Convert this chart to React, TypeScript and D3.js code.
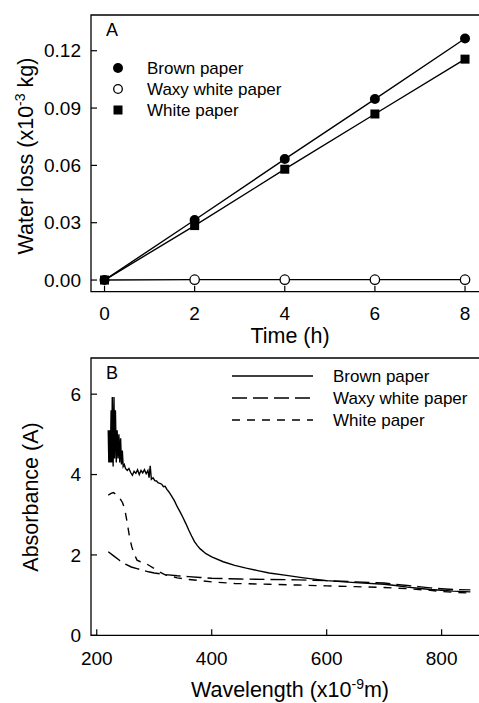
import React from "react";
import * as d3 from "d3";

// ---------- Panel A data ----------
const timeH = [0, 2, 4, 6, 8];
const brownLoss = [0, 0.0314, 0.0633, 0.0947, 0.1264];
const waxyLoss = [0, 0.0002, 0.0002, 0.0002, 0.0002];
const whiteLoss = [0, 0.0285, 0.058, 0.0869, 0.1156];
const ticksA_x = [0, 2, 4, 6, 8];
const ticksA_y = [0, 0.03, 0.06, 0.09, 0.12];

// ---------- Panel B data ----------
const brownAbs: [number, number][] = [
  [220, 5.1], [221, 4.3], [222, 5.1], [223.5, 4.3], [225, 5.6], [226, 4.3], [227, 5.93],
  [228.5, 4.2], [230, 5.93], [231, 4.4], [232.5, 5.6], [234, 4.3], [235.5, 5.1], [237, 4.4],
  [238.5, 5.0], [240, 4.3], [241.5, 4.9], [243, 4.25], [244.5, 4.6], [246, 4.2], [248, 4.25],
  [250, 4.15], [253, 4.1], [256, 4.15], [259, 4.05], [262, 3.98], [265, 4.08], [268, 4.03],
  [271, 4.12], [274, 4.0], [277, 4.1], [280, 4.04], [283, 4.12], [286, 4.02], [289, 4.1],
  [291, 3.92], [293, 4.22], [295, 3.88], [298, 3.92], [301, 3.85], [304, 3.84], [307, 3.79],
  [310, 3.78], [313, 3.76], [316, 3.7], [319, 3.71], [322, 3.63], [325, 3.58], [330, 3.47],
  [335, 3.35], [340, 3.2], [345, 3.07], [350, 2.93], [355, 2.78], [360, 2.62], [365, 2.47],
  [370, 2.33], [375, 2.23], [380, 2.15], [390, 2.03], [400, 1.95], [420, 1.83], [440, 1.74],
  [460, 1.67], [480, 1.61], [500, 1.55], [530, 1.49], [560, 1.43], [600, 1.36], [650, 1.31],
  [700, 1.27], [720, 1.24], [740, 1.2], [760, 1.17], [780, 1.14], [800, 1.12], [820, 1.1],
  [850, 1.08],
];
const waxyAbs: [number, number][] = [
  [220, 2.08], [230, 1.97], [240, 1.86], [250, 1.77], [260, 1.7], [270, 1.66], [280, 1.62],
  [290, 1.58], [300, 1.55], [320, 1.51], [340, 1.48], [360, 1.46], [380, 1.44], [400, 1.42],
  [450, 1.4], [500, 1.39], [550, 1.38], [600, 1.36], [650, 1.33], [700, 1.3], [720, 1.27],
  [740, 1.24], [760, 1.21], [780, 1.18], [800, 1.16], [820, 1.14], [850, 1.13],
];
const whiteAbs: [number, number][] = [
  [220, 3.49], [225, 3.53], [229, 3.55], [234, 3.5], [240, 3.41], [245, 3.3], [249, 3.12],
  [253, 2.8], [257, 2.45], [261, 2.2], [266, 2.0], [270, 1.87], [276, 1.83], [284, 1.8],
  [292, 1.73], [301, 1.65], [310, 1.57], [320, 1.5], [340, 1.43], [360, 1.39], [380, 1.36],
  [400, 1.33], [440, 1.29], [500, 1.27], [550, 1.25], [600, 1.23], [650, 1.21], [700, 1.19],
  [740, 1.16], [780, 1.12], [800, 1.09], [820, 1.07], [850, 1.05],
];
const ticksB_x = [200, 400, 600, 800];
const ticksB_y = [0, 2, 4, 6];

const FONT = "Liberation Sans, Arial, sans-serif";

export default function App() {
  // Panel A scales
  const xA = d3.scaleLinear().domain([-0.3, 8.31]).range([91, 479]);
  const yA = d3.scaleLinear().domain([-0.0061, 0.1387]).range([291.7, 15]);
  // Panel B scales
  const xB = d3.scaleLinear().domain([190, 865]).range([91, 479]);
  const yB = d3.scaleLinear().domain([0, 6.9]).range([635.3, 358]);

  const lineA = d3
    .line<number>()
    .x((_, i) => xA(timeH[i]))
    .y((d) => yA(d));
  const lineB = d3
    .line<[number, number]>()
    .x((d) => xB(d[0]))
    .y((d) => yB(d[1]));

  const tickLen = 6;
  const sw = 1.4;

  return (
    <svg
      width={479}
      height={703}
      style={{ position: "absolute", left: 0, top: 0, background: "#fff" }}
      fontFamily={FONT}
    >
      <rect x={0} y={0} width={479} height={703} fill="#fff" />
      {/* ================= Panel A ================= */}
      <g>
        {/* frame */}
        <path
          d={`M479,${yA.range()[1]}H${xA.range()[0]}V${yA.range()[0]}H479`}
          fill="none"
          stroke="#000"
          strokeWidth={1.3}
        />
        {ticksA_y.map((t) => (
          <g key={"ay" + t}>
            <line x1={91} x2={91 + tickLen} y1={yA(t)} y2={yA(t)} stroke="#000" strokeWidth={1.2} />
            <text x={81} y={yA(t)} dy="0.35em" textAnchor="end" fontSize={19}>
              {t.toFixed(2)}
            </text>
          </g>
        ))}
        {ticksA_x.map((t) => (
          <g key={"ax" + t}>
            <line
              x1={xA(t)}
              x2={xA(t)}
              y1={yA.range()[0]}
              y2={yA.range()[0] - tickLen}
              stroke="#000"
              strokeWidth={1.2}
            />
            <text x={xA(t)} y={320} textAnchor="middle" fontSize={19}>
              {t}
            </text>
          </g>
        ))}
        <text x={290} y={343} textAnchor="middle" fontSize={21.5}>
          Time (h)
        </text>
        <text transform="translate(33,156) rotate(-90)" textAnchor="middle" fontSize={21.5}>
          Water loss (x10
          <tspan dy={-8} fontSize={14}>
            -3
          </tspan>
          <tspan dy={8}> kg)</tspan>
        </text>
        <text x={106} y={36} fontSize={18}>
          A
        </text>

        {/* lines */}
        <path d={lineA(brownLoss) || ""} fill="none" stroke="#000" strokeWidth={sw} />
        <path d={lineA(whiteLoss) || ""} fill="none" stroke="#000" strokeWidth={sw} />
        <path d={lineA(waxyLoss) || ""} fill="none" stroke="#000" strokeWidth={sw} />
        {/* markers */}
        {brownLoss.map((v, i) => (
          <circle key={"b" + i} cx={xA(timeH[i])} cy={yA(v)} r={5} fill="#000" />
        ))}
        {whiteLoss.map((v, i) => (
          <rect key={"w" + i} x={xA(timeH[i]) - 4.5} y={yA(v) - 4.5} width={9} height={9} fill="#000" />
        ))}
        {waxyLoss.map((v, i) =>
          i === 0 ? null : (
            <circle key={"x" + i} cx={xA(timeH[i])} cy={yA(v)} r={4.7} fill="#fff" stroke="#000" strokeWidth={1.3} />
          )
        )}

        {/* legend */}
        <circle cx={118} cy={68} r={5} fill="#000" />
        <text x={147} y={68} dy="0.35em" fontSize={17}>
          Brown paper
        </text>
        <circle cx={118} cy={89} r={4.3} fill="#fff" stroke="#000" strokeWidth={1.3} />
        <text x={147} y={89} dy="0.35em" fontSize={17}>
          Waxy white paper
        </text>
        <rect x={113.5} y={105.5} width={9} height={9} fill="#000" />
        <text x={147} y={110} dy="0.35em" fontSize={17}>
          White paper
        </text>
      </g>

      {/* ================= Panel B ================= */}
      <g>
        <path
          d={`M479,${yB.range()[1]}H${xB.range()[0]}V${yB.range()[0]}H479`}
          fill="none"
          stroke="#000"
          strokeWidth={1.3}
        />
        {ticksB_y.map((t) => (
          <g key={"by" + t}>
            <line x1={91} x2={91 + tickLen} y1={yB(t)} y2={yB(t)} stroke="#000" strokeWidth={1.2} />
            <text x={81} y={yB(t)} dy="0.35em" textAnchor="end" fontSize={19}>
              {t}
            </text>
          </g>
        ))}
        {ticksB_x.map((t) => (
          <g key={"bx" + t}>
            <line
              x1={xB(t)}
              x2={xB(t)}
              y1={yB.range()[0]}
              y2={yB.range()[0] - tickLen}
              stroke="#000"
              strokeWidth={1.2}
            />
            <text x={xB(t)} y={665} textAnchor="middle" fontSize={19}>
              {t}
            </text>
          </g>
        ))}
        <text x={290} y={697} textAnchor="middle" fontSize={21.5}>
          Wavelength (x10
          <tspan dy={-8} fontSize={14}>
            -9
          </tspan>
          <tspan dy={8}>m)</tspan>
        </text>
        <text transform="translate(38,497) rotate(-90)" textAnchor="middle" fontSize={21.5}>
          Absorbance (A)
        </text>
        <text x={106} y={379} fontSize={18}>
          B
        </text>

        <path d={lineB(waxyAbs) || ""} fill="none" stroke="#000" strokeWidth={sw} strokeDasharray="15,6" />
        <path d={lineB(whiteAbs) || ""} fill="none" stroke="#000" strokeWidth={sw} strokeDasharray="8,7" />
        <path d={lineB(brownAbs) || ""} fill="none" stroke="#000" strokeWidth={sw} />

        {/* legend */}
        <line x1={232} x2={313} y1={376} y2={376} stroke="#000" strokeWidth={sw} />
        <text x={333} y={376} dy="0.35em" fontSize={17}>
          Brown paper
        </text>
        <line x1={232} x2={313} y1={398} y2={398} stroke="#000" strokeWidth={sw} strokeDasharray="15,6" />
        <text x={333} y={398} dy="0.35em" fontSize={17}>
          Waxy white paper
        </text>
        <line x1={232} x2={313} y1={420} y2={420} stroke="#000" strokeWidth={sw} strokeDasharray="8,7" />
        <text x={333} y={420} dy="0.35em" fontSize={17}>
          White paper
        </text>
      </g>
    </svg>
  );
}
